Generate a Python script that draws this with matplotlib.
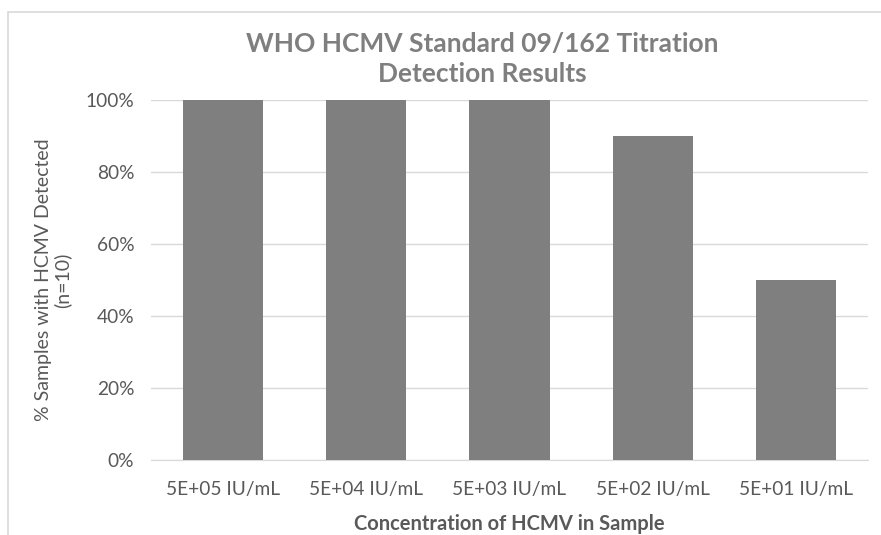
import matplotlib
matplotlib.use("Agg")
import matplotlib.pyplot as plt
from matplotlib.ticker import PercentFormatter
from matplotlib.patches import Rectangle

categories = ["5E+05 IU/mL", "5E+04 IU/mL", "5E+03 IU/mL", "5E+02 IU/mL", "5E+01 IU/mL"]
values = [100, 100, 100, 90, 50]
yticks = [0, 20, 40, 60, 80, 100]

plt.rcParams['font.family'] = ['Lato', 'DejaVu Sans']

W, H = 881, 535
fig = plt.figure(figsize=(W / 100, H / 100), dpi=100)
ax = fig.add_axes([151 / W, 1 - 460 / H, (868 - 151) / W, 360 / H])

x = range(len(categories))
ax.bar(x, values, width=0.56, color="#7f7f7f", zorder=3)
ax.set_xlim(-0.5, len(categories) - 0.5)
ax.set_ylim(0, 100)
ax.set_yticks(yticks)
ax.yaxis.set_major_formatter(PercentFormatter(decimals=0))
ax.set_xticks(list(x))
ax.set_xticklabels(categories)
ax.grid(axis="y", color="#d9d9d9", linewidth=1, zorder=0)
for s in ax.spines.values():
    s.set_visible(False)
ax.spines["bottom"].set_visible(True)
ax.spines["bottom"].set_color("#d9d9d9")
ax.tick_params(axis="both", length=0, labelsize=13.8, labelcolor="#595959")
ax.tick_params(axis="y", pad=12)
ax.tick_params(axis="x", pad=15)

ax.set_xlabel("Concentration of HCMV in Sample", fontsize=14.5, color="#595959",
              fontweight="bold", labelpad=12)
ax.set_ylabel("% Samples with HCMV Detected\n(n=10)", fontsize=14, color="#595959",
              labelpad=10, linespacing=1.15)

fig.text(482 / W, 1 - 59 / H, "WHO HCMV Standard 09/162 Titration\nDetection Results",
         ha="center", va="center", fontsize=19, fontweight="bold", color="#7f7f7f",
         linespacing=1.3)

fig.patches.append(Rectangle((8 / W, -0.1), 1.2, 1 - 12 / H + 0.1, transform=fig.transFigure,
                             fill=False, edgecolor="#d9d9d9", linewidth=1.2))

fig.savefig("out.png", dpi=100)
